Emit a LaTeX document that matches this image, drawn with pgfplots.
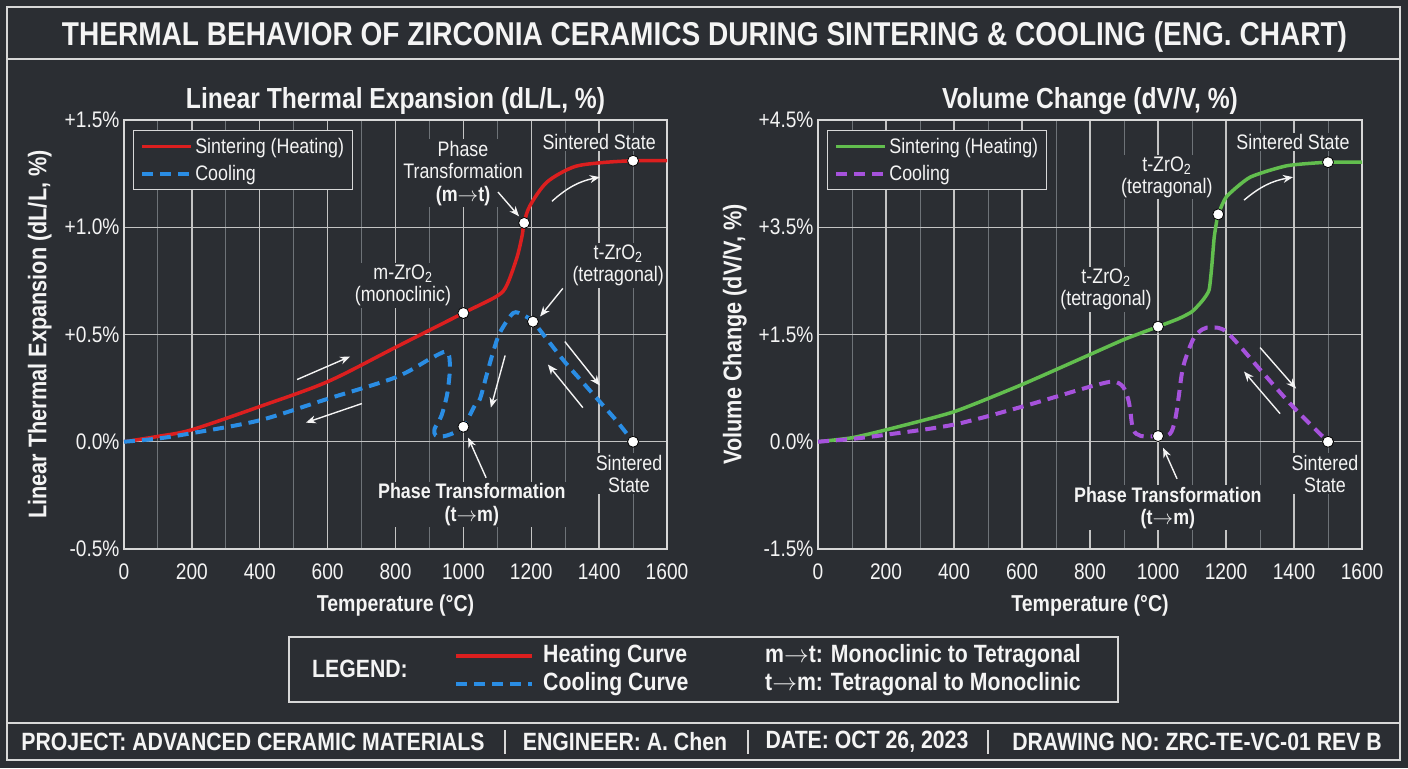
\documentclass[border=0pt]{standalone}
\usepackage{pgfplots}
\pgfplotsset{compat=1.18}
\usepackage{fontspec}
\setmainfont[FakeStretch=0.85]{Liberation Sans}
\usetikzlibrary{arrows.meta}

\definecolor{bgc}{HTML}{2B2E33}
\definecolor{framec}{HTML}{D8D8D8}
\definecolor{gridc}{HTML}{C4C4C4}
\definecolor{gridminor}{HTML}{6E7378}
\definecolor{txt}{HTML}{F4F4F4}
\definecolor{heatred}{HTML}{DC1F1F}
\definecolor{coolblue}{HTML}{2A8DE4}
\definecolor{heatgreen}{HTML}{62BE4E}
\definecolor{coolpurple}{HTML}{A652DC}

\newcommand\fs[2]{\fontsize{#1bp}{#2bp}\selectfont}
\newcommand\arr{\ensuremath{\rightarrow}}

\tikzset{
  ann/.style={draw=txt, line width=1.4bp, -{Stealth[length=10bp,width=8bp]}},
  lbl/.style={text=txt, fill=bgc, inner sep=1.5bp, align=center, font=\fs{21}{22.5}},
}

\pgfplotsset{
  zr/.style={
    scale only axis, anchor=south west,
    xmin=0, xmax=1600,
    xtick={0,200,...,1600},
    minor xtick={100,300,...,1500},
    xticklabels={0,200,400,600,800,1000,1200,1400,1600},
    grid=both,
    major grid style={draw=gridc, line width=1.3bp},
    minor grid style={draw=gridminor, line width=1bp},
    major tick length=0pt, minor tick length=0pt,
    axis line style={draw=framec, line width=1.8bp},
    tick label style={text=txt, font=\fs{22.5}{25}},
    xticklabel style={yshift=-11bp},
    yticklabel style={xshift=-1bp},
    label style={text=txt, font=\bfseries\fs{23}{26}},
    ylabel style={font=\bfseries\fs{25.5}{28}},
    title style={text=txt, font=\bfseries\fs{29}{32},
      at={(axis description cs:0.5,1.030)}, anchor=center},
    xlabel style={at={(axis description cs:0.5,-0.133)}, anchor=center},
    legend style={at={(axis description cs:0.017,0.977)}, anchor=north west,
      fill=bgc, draw=framec, line width=1.2bp, text=txt, font=\fs{21}{24},
      inner xsep=6bp, inner ysep=5bp, row sep=6bp,
      nodes={inner sep=2.5bp}},
    legend cell align=left,
    legend image code/.code={\draw[#1] (0bp,0bp) -- (49bp,0bp);},
    clip=false,
  },
  dots/.style={only marks, mark=*, mark size=5.5bp,
    mark options={fill=white, draw=black, line width=0.8bp}, forget plot},
}

\begin{document}
\begin{tikzpicture}[x=1bp,y=1bp]
\fill[bgc] (0,0) rectangle (1408,768);
\useasboundingbox (0,0) rectangle (1408,768);

% drawing frame, title band and footer band
\draw[framec, line width=2bp] (7,8) rectangle (1400,761);
\draw[framec, line width=2bp] (7,709) -- (1400,709);
\draw[framec, line width=2bp] (7,45) -- (1400,45);
\node[text=txt, font=\bfseries\fs{33}{36}] at (704.5,731)
  {THERMAL BEHAVIOR OF ZIRCONIA CERAMICS DURING SINTERING \& COOLING (ENG. CHART)};

% ---------- linear thermal expansion ----------
\begin{axis}[zr,
  at={(124bp,219bp)}, width=543bp, height=429bp,
  ymin=-0.5, ymax=1.5,
  ytick={-0.5,0,0.5,1,1.5},
  yticklabels={-0.5\%,0.0\%,+0.5\%,+1.0\%,+1.5\%},
  title={Linear Thermal Expansion (dL/L, \%)},
  xlabel={Temperature (°C)},
  ylabel={Linear Thermal Expansion (dL/L, \%)},
  ylabel style={at={(axis description cs:-0.155,0.5)}, anchor=center},
]
\addplot[heatred, line width=3.5bp, smooth, tension=0.5] coordinates {
  (0,0) (100,0.025) (200,0.056) (400,0.164) (600,0.28) (800,0.44)
  (1000,0.60) (1100,0.68) (1128,0.73) (1158,0.86) (1173,0.96)
  (1179,1.02) (1196,1.10) (1246,1.21) (1323,1.28) (1400,1.30)
  (1500,1.31) (1600,1.31)};
\addlegendentry{Sintering (Heating)}
\addplot[coolblue, line width=4bp, dash pattern=on 11bp off 7bp, smooth, tension=0.5] coordinates {
  (0,0) (100,0.015) (200,0.04) (400,0.10) (600,0.20) (800,0.30)
  (900,0.385) (930,0.41) (948,0.42) (958,0.40) (960,0.33) (952,0.22)
  (935,0.12) (915,0.06) (918,0.03) (940,0.025) (970,0.04) (1000,0.07)
  (1034,0.17) (1049,0.20) (1070,0.32) (1088,0.42) (1108,0.51)
  (1147,0.60) (1176,0.59) (1205,0.56) (1250,0.47) (1300,0.37)
  (1350,0.28) (1400,0.19) (1450,0.10) (1500,0.0)};
\addlegendentry{Cooling}
\addplot[dots] coordinates {
  (1000,0.60) (1179,1.02) (1500,1.31) (1205,0.56) (1000,0.07) (1500,0.0)};

\node[lbl] at (axis cs:822,0.729) {m-ZrO\textsubscript{2}\\(monoclinic)};
\node[lbl] at (axis cs:999,1.252) {Phase\\Transformation\\\textbf{(m\arr t)}};
\node[lbl] at (axis cs:1400,1.397) {Sintered State};
\node[lbl] at (axis cs:1456,0.822) {t-ZrO\textsubscript{2}\\(tetragonal)};
\node[lbl, font=\bfseries\fs{21}{22.5}] at (axis cs:1025,-0.294) {Phase Transformation\\(t\arr m)};
\node[lbl] at (axis cs:1488,-0.150) {Sintered\\State};

\draw[ann] (axis cs:1102,1.164) -- (axis cs:1164,1.051);
\draw[ann] (axis cs:1261,1.121) to[bend left=15] (axis cs:1402,1.234);
\draw[ann] (axis cs:1293,0.715) -- (axis cs:1226,0.584);
\draw[ann] (axis cs:1299,0.467) -- (axis cs:1402,0.262);
\draw[ann] (axis cs:1352,0.159) -- (axis cs:1249,0.360);
\draw[ann] (axis cs:1123,0.402) -- (axis cs:1081,0.159);
\draw[ann] (axis cs:510,0.290) -- (axis cs:666,0.397);
\draw[ann] (axis cs:701,0.178) -- (axis cs:536,0.089);
\draw[ann] (axis cs:1067,-0.168) -- (axis cs:1014,0.019);
\end{axis}

% ---------- volume change ----------
\begin{axis}[zr,
  at={(818bp,219bp)}, width=544bp, height=429bp,
  ymin=-1.5, ymax=4.5,
  ytick={-1.5,0,1.5,3,4.5},
  yticklabels={-1.5\%,0.0\%,+1.5\%,+3.5\%,+4.5\%},
  title={Volume Change (dV/V, \%)},
  xlabel={Temperature (°C)},
  ylabel={Volume Change (dV/V, \%)},
  ylabel style={at={(axis description cs:-0.153,0.5)}, anchor=center},
]
\addplot[heatgreen, line width=3.5bp, smooth, tension=0.35] coordinates {
  (0,0) (100,0.056) (203,0.17) (400,0.42) (600,0.80) (800,1.22)
  (900,1.43) (1000,1.61) (1060,1.72) (1100,1.82) (1130,1.97)
  (1150,2.12) (1158,2.45) (1165,2.85) (1172,3.07) (1177,3.18)
  (1202,3.43) (1271,3.70) (1379,3.86) (1500,3.91) (1600,3.91)};
\addlegendentry{Sintering (Heating)}
\addplot[coolpurple, line width=4bp, dash pattern=on 11bp off 7bp, smooth, tension=0.5] coordinates {
  (0,0) (100,0.04) (203,0.10) (400,0.24) (600,0.49) (800,0.77)
  (868,0.84) (897,0.77) (912,0.60) (918,0.45) (927,0.17) (950,0.08)
  (1000,0.08) (1035,0.11) (1050,0.30) (1060,0.60) (1074,1.05)
  (1103,1.43) (1130,1.57) (1158,1.60) (1203,1.53) (1300,1.01)
  (1397,0.49) (1500,0.0)};
\addlegendentry{Cooling}
\addplot[dots] coordinates {
  (1000,1.61) (1177,3.18) (1500,3.91) (1000,0.08) (1500,0.0)};

\node[lbl] at (axis cs:847,2.131) {t-ZrO\textsubscript{2}\\(tetragonal)};
\node[lbl] at (axis cs:1026,3.701) {t-ZrO\textsubscript{2}\\(tetragonal)};
\node[lbl] at (axis cs:1397,4.192) {Sintered State};
\node[lbl, font=\bfseries\fs{21}{22.5}] at (axis cs:1029,-0.925) {Phase Transformation\\(t\arr m)};
\node[lbl] at (axis cs:1491,-0.449) {Sintered\\State};

\draw[ann] (axis cs:1253,3.379) to[bend left=15] (axis cs:1397,3.701);
\draw[ann] (axis cs:1300,1.318) -- (axis cs:1406,0.743);
\draw[ann] (axis cs:1359,0.393) -- (axis cs:1253,0.981);
\draw[ann] (axis cs:1056,-0.519) -- (axis cs:1015,-0.084);
\end{axis}

% ---------- key box ----------
\draw[framec, line width=1.6bp] (289,66) rectangle (1118,131);
\node[text=txt, font=\bfseries\fs{25}{28}] at (360,99) {LEGEND:};
\draw[heatred, line width=4bp] (456,112) -- (532,112);
\draw[coolblue, line width=4bp, dash pattern=on 11bp off 7bp] (456,84) -- (532,84);
\begin{scope}[every node/.style={anchor=west, inner sep=0pt, text=txt, font=\bfseries\fs{25}{28}}]
\node at (543,112) {Heating Curve};
\node at (543,84) {Cooling Curve};
\node at (765,112) {m\arr t: Monoclinic to Tetragonal};
\node at (765,84) {t\arr m: Tetragonal to Monoclinic};
\end{scope}

% ---------- footer ----------
\begin{scope}[every node/.style={text=txt, font=\bfseries\fs{25}{28}}]
\node at (253,26) {PROJECT: ADVANCED CERAMIC MATERIALS};
\node at (625,26) {ENGINEER: A. Chen};
\node at (867,26) {DATE: OCT 26, 2023};
\node at (1197,26) {DRAWING NO: ZRC-TE-VC-01 REV B};
\end{scope}
\draw[framec, line width=1.5bp] (505,14) -- (505,38);
\draw[framec, line width=1.5bp] (748,14) -- (748,38);
\draw[framec, line width=1.5bp] (988,14) -- (988,38);
\end{tikzpicture}
\end{document}
